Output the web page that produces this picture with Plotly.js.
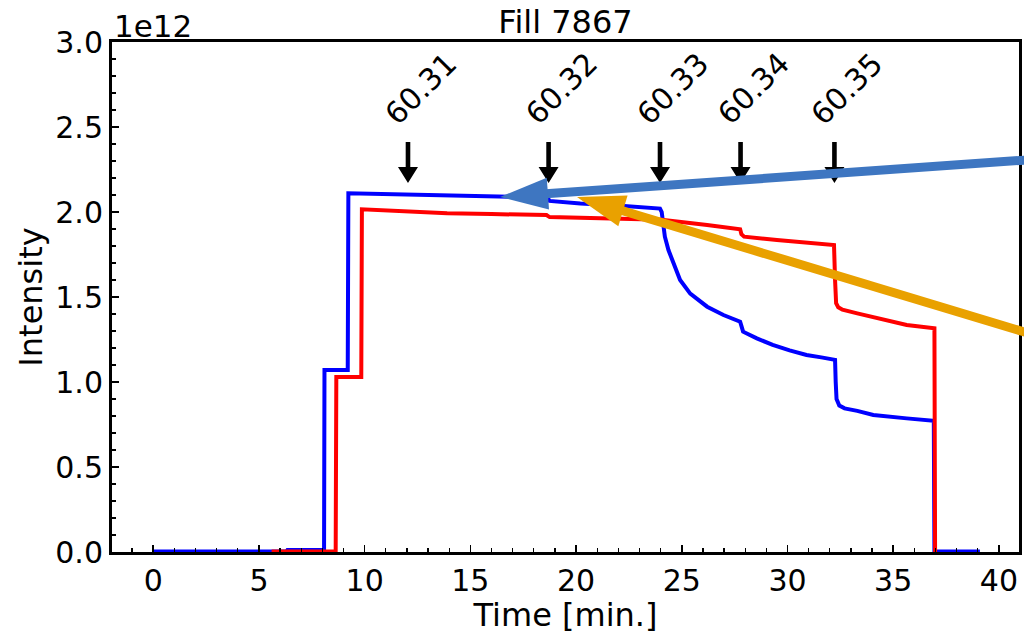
<!DOCTYPE html>
<html><head><meta charset="utf-8">
<script src="https://cdn.plot.ly/plotly-3.0.1.min.js"></script>
<style>html,body{margin:0;padding:0;background:#fff}</style>
</head><body><div id="chart" style="width:1024px;height:634px"></div>
<script>
const SCALE = 1e12;
// Blue beam intensity (units of 1e12)
const blueX = [0, 6.3, 6.35, 8.08, 8.1, 9.2, 9.23, 12, 15, 18, 18.65, 18.75, 20.2, 21.8, 23.0, 23.97, 24.05, 24.13, 24.2, 24.37, 24.6, 24.92, 25.4, 26.2, 26.97, 27.76, 27.82, 27.9, 28.55, 29.3, 30.1, 30.9, 31.6, 32.25, 32.28, 32.32, 32.45, 32.7, 33.3, 34.06, 35.64, 36.92, 36.95, 39.1];
const blueY = [0.003, 0.003, 0.012, 0.012, 1.07, 1.07, 2.11, 2.104, 2.098, 2.088, 2.085, 2.065, 2.05, 2.04, 2.03, 2.02, 2.0, 1.933, 1.855, 1.776, 1.70, 1.60, 1.52, 1.443, 1.394, 1.355, 1.33, 1.296, 1.257, 1.218, 1.186, 1.159, 1.145, 1.13, 1.0, 0.9, 0.862, 0.845, 0.83, 0.806, 0.786, 0.772, 0.003, 0.003];
// Red beam intensity (units of 1e12)
const redX = [5.6, 8.63, 8.66, 9.84, 9.87, 12, 13.9, 16, 18.6, 18.75, 21, 23.3, 24.05, 26.2, 27.76, 27.82, 27.95, 29.5, 31, 32.2, 32.25, 32.3, 32.4, 32.6, 33.3, 34.85, 35.64, 36.95, 36.98];
const redY = [0.003, 0.003, 1.03, 1.03, 2.016, 2.005, 1.992, 1.988, 1.982, 1.97, 1.965, 1.957, 1.955, 1.924, 1.898, 1.87, 1.855, 1.835, 1.82, 1.806, 1.6, 1.463, 1.44, 1.425, 1.404, 1.355, 1.335, 1.316, 0];
const xTicks = [0, 5, 10, 15, 20, 25, 30, 35, 40];
const yTicks = [0, 0.5, 1, 1.5, 2, 2.5, 3];
const yTickText = ['0.0', '0.5', '1.0', '1.5', '2.0', '2.5', '3.0'];
const markerX = [12.05, 18.7, 23.97, 27.78, 32.22];
const markerLabels = ['60.31', '60.32', '60.33', '60.34', '60.35'];
const markerTipY = 2.17;
const labelY = 2.724;

const W = 1024, H = 634, M = {l: 112, r: 5, t: 42, b: 82, pad: 0};
const FONT = 'DejaVu Sans';
function p2p(px, py) { return [(px - M.l) / (W - M.l - M.r), (H - M.b - py) / (H - M.t - M.b)]; }

// overlay arrows (pixel geometry of the drawn call-outs)
const overlays = [
  {tail: [1026, 160], tip: [500, 197], color: '#3e76c1'},
  {tail: [1026, 332.5], tip: [577, 197], color: '#e9a100'}
];
function bigArrow(o, lw, hl, hw) {
  const dx = o.tip[0] - o.tail[0], dy = o.tip[1] - o.tail[1];
  const L = Math.hypot(dx, dy), ux = dx / L, uy = dy / L, nx = -uy, ny = ux;
  const bx = o.tip[0] - ux * hl, by = o.tip[1] - uy * hl;
  const a = p2p(o.tail[0], o.tail[1]), b = p2p(bx + ux * 2, by + uy * 2);
  const c1 = p2p(bx + nx * hw / 2, by + ny * hw / 2), c2 = p2p(bx - nx * hw / 2, by - ny * hw / 2), t = p2p(o.tip[0], o.tip[1]);
  return [
    {type: 'line', xref: 'paper', yref: 'paper', x0: a[0], y0: a[1], x1: b[0], y1: b[1], line: {color: o.color, width: lw}, layer: 'above'},
    {type: 'path', xref: 'paper', yref: 'paper', path: `M ${c1[0]} ${c1[1]} L ${t[0]} ${t[1]} L ${c2[0]} ${c2[1]} Z`, fillcolor: o.color, line: {width: 0}, layer: 'above'}
  ];
}

const shapes = [];
markerX.forEach(x => {
  shapes.push({type: 'path', xref: 'x', yref: 'y', xsizemode: 'pixel', ysizemode: 'pixel', xanchor: x, yanchor: markerTipY * SCALE,
    path: 'M -2.3 41 L 2.3 41 L 2.3 16 L 10 16 L 0 0 L -10 16 L -2.3 16 Z', fillcolor: '#000', line: {width: 0}, layer: 'above'});
});
overlays.forEach(o => shapes.push(...bigArrow(o, 9, 48, 32)));

const annotations = markerLabels.map((t, i) => ({
  x: markerX[i], y: labelY * SCALE, xref: 'x', yref: 'y', text: t, showarrow: false, textangle: -45, xshift: 13,
  font: {family: FONT, size: 30, color: '#000'}
}));
annotations.push({x: 0, y: 1, xref: 'paper', yref: 'paper', xanchor: 'left', yanchor: 'bottom', text: '1e12', showarrow: false, yshift: -4,
  font: {family: FONT, size: 31, color: '#000'}});

const traces = [
  {x: blueX, y: blueY.map(v => v * SCALE), mode: 'lines', line: {color: '#0000ff', width: 4}, hoverinfo: 'skip'},
  {x: redX, y: redY.map(v => v * SCALE), mode: 'lines', line: {color: '#ff0000', width: 4}, hoverinfo: 'skip'}
];

const axisCommon = {showgrid: false, zeroline: false, linecolor: '#000', linewidth: 3, mirror: true, ticks: 'inside', ticklen: 7, tickwidth: 1.6, tickcolor: '#000',
  tickfont: {family: FONT, size: 30, color: '#000'}};
const layout = {
  width: W, height: H, margin: M, paper_bgcolor: '#fff', plot_bgcolor: '#fff', showlegend: false,
  font: {family: FONT, color: '#000'},
  title: {text: 'Fill 7867', font: {family: FONT, size: 32, color: '#000'}, xref: 'paper', x: 0.5, xanchor: 'center', yref: 'container', y: 1 - 22 / H, yanchor: 'middle'},
  xaxis: Object.assign({}, axisCommon, {range: [-1.95, 40.95], tickmode: 'array', tickvals: xTicks,
    minor: {ticks: 'inside', ticklen: 4, tickwidth: 1.3, tickcolor: '#000', dtick: 1, tick0: 0},
    title: {text: 'Time [min.]', font: {family: FONT, size: 32, color: '#000'}, standoff: 8}}),
  yaxis: Object.assign({}, axisCommon, {range: [0, 3 * SCALE], tickmode: 'array', tickvals: yTicks.map(v => v * SCALE), ticktext: yTickText,
    minor: {ticks: 'inside', ticklen: 4, tickwidth: 1.3, tickcolor: '#000', dtick: 0.1 * SCALE, tick0: 0},
    title: {text: 'Intensity', font: {family: FONT, size: 32, color: '#000'}, standoff: 4}}),
  shapes: shapes, annotations: annotations
};
Plotly.newPlot('chart', traces, layout, {staticPlot: true});
</script></body></html>
